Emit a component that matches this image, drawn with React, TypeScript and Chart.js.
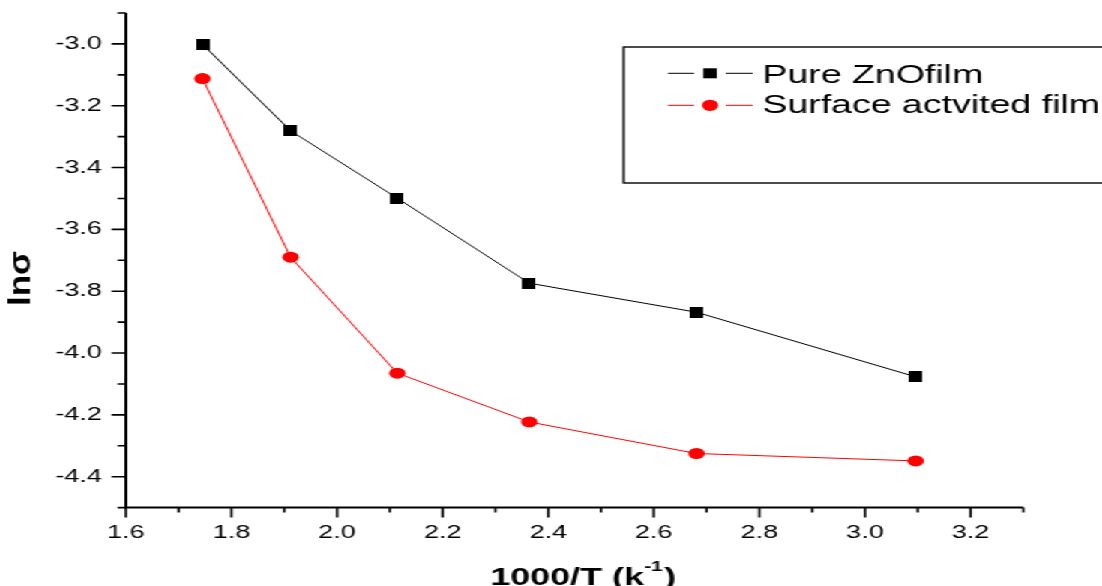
import React, { useEffect, useRef } from 'react';
import { Chart, registerables } from 'chart.js';

Chart.register(...registerables);

// ---- data ----
const inverseTemperature = [1.745, 1.912, 2.114, 2.364, 2.681, 3.096];
const pureZnOFilm = [-3.001, -3.281, -3.499, -3.774, -3.868, -4.077];
const surfaceActivatedFilm = [-3.112, -3.69, -4.065, -4.223, -4.325, -4.349];
const seriesLabels = ['Pure ZnOfilm', 'Surface actvited film'];
const xTitleMain = '1000/T (k';
const xTitleSup = '-1';
const xTitleEnd = ')';
const yTitle = 'lnσ';
const xRange = [1.6, 3.3];
const yRange = [-4.5, -2.9];

const FONT = "'Liberation Sans', Arial, Helvetica, sans-serif";
const CANVAS_W = 735;
const CANVAS_H = 586;
const STRETCH = 1102 / CANVAS_W;

function makeSquare(): HTMLCanvasElement {
  const c = document.createElement('canvas');
  c.width = 9;
  c.height = 11;
  const g = c.getContext('2d')!;
  g.fillStyle = '#000';
  g.fillRect(0, 0, 9, 11);
  return c;
}

function majorLabel(value: number | string): string {
  const k = Math.round(Number(value) * 10);
  return k % 2 === 0 ? (k / 10).toFixed(1) : '';
}

const decorPlugin = {
  id: 'decor',
  afterDraw(chart: any) {
    const ctx: CanvasRenderingContext2D = chart.ctx;
    const xs = chart.scales.x;
    const ys = chart.scales.y;
    const ca = chart.chartArea;
    ctx.save();
    ctx.strokeStyle = '#000';
    ctx.fillStyle = '#000';
    // axes lines
    ctx.lineWidth = 2;
    ctx.beginPath();
    ctx.moveTo(ca.left, ca.top);
    ctx.lineTo(ca.left, ca.bottom);
    ctx.moveTo(ca.left - 1, ca.bottom);
    ctx.lineTo(ca.right, ca.bottom);
    ctx.stroke();
    // ticks
    ctx.lineWidth = 1.6;
    ctx.beginPath();
    const nx = Math.round((xRange[1] - xRange[0]) * 10);
    for (let i = 0; i <= nx; i++) {
      const v = xRange[0] + i * 0.1;
      const px = xs.getPixelForValue(v);
      const major = Math.round(v * 10) % 2 === 0;
      ctx.moveTo(px, ca.bottom);
      ctx.lineTo(px, ca.bottom + (major ? 10 : 5));
    }
    const ny = Math.round((yRange[1] - yRange[0]) * 10);
    for (let i = 0; i <= ny; i++) {
      const v = yRange[0] + i * 0.1;
      const py = ys.getPixelForValue(v);
      const major = Math.round(v * 10) % 2 === 0;
      ctx.moveTo(ca.left, py);
      ctx.lineTo(ca.left - (major ? 9.5 : 5.5), py);
    }
    ctx.stroke();

    // x title
    ctx.textBaseline = 'alphabetic';
    ctx.textAlign = 'left';
    const bigFont = `bold 24px ${FONT}`;
    const smallFont = `bold 14px ${FONT}`;
    ctx.font = bigFont;
    const w1 = ctx.measureText(xTitleMain).width;
    const w3 = ctx.measureText(xTitleEnd).width;
    ctx.font = smallFont;
    const w2 = ctx.measureText(xTitleSup).width;
    const total = w1 + w2 + w3 + 1;
    let tx = 389 - total / 2;
    ctx.font = bigFont;
    ctx.fillText(xTitleMain, tx, 585);
    tx += w1;
    ctx.font = smallFont;
    ctx.fillText(xTitleSup, tx, 571);
    tx += w2 + 1;
    ctx.font = bigFont;
    ctx.fillText(xTitleEnd, tx, 585);

    // y title
    ctx.save();
    ctx.translate(20, 278.5);
    ctx.rotate(-Math.PI / 2);
    ctx.scale(1.75, 1);
    ctx.textAlign = 'center';
    ctx.font = `bold 20px ${FONT}`;
    ctx.fillText(yTitle, 0, 0);
    ctx.restore();

    // legend box
    ctx.lineWidth = 1.4;
    ctx.strokeRect(416, 47, 400, 136);
    const rows = [
      { y: 73.3, color: '#000', square: true, label: seriesLabels[0], base: 83 },
      { y: 105.3, color: '#ff0000', square: false, label: seriesLabels[1], base: 113 },
    ];
    rows.forEach((r) => {
      ctx.strokeStyle = r.color;
      ctx.lineWidth = 1;
      ctx.beginPath();
      ctx.moveTo(445.5, r.y);
      ctx.lineTo(463, r.y);
      ctx.moveTo(484, r.y);
      ctx.lineTo(502, r.y);
      ctx.stroke();
      ctx.fillStyle = r.color;
      if (r.square) {
        ctx.fillRect(473.6 - 4.5, r.y - 5, 9, 10);
      } else {
        ctx.beginPath();
        ctx.ellipse(473.6, r.y, 5.4, 5.6, 0, 0, Math.PI * 2);
        ctx.fill();
      }
      ctx.fillStyle = '#000';
      ctx.font = `25px ${FONT}`;
      ctx.textAlign = 'left';
      ctx.fillText(r.label, 508.5, r.base);
    });
    ctx.restore();
  },
};

export default function App() {
  const ref = useRef<HTMLCanvasElement | null>(null);

  useEffect(() => {
    if (!ref.current) return;
    const square = makeSquare();
    const chart = new Chart(ref.current, {
      type: 'line',
      data: {
        datasets: [
          {
            label: seriesLabels[0],
            data: inverseTemperature.map((x, i) => ({ x, y: pureZnOFilm[i] })),
            borderColor: '#000',
            backgroundColor: '#000',
            borderWidth: 1,
            pointStyle: square as any,
            pointRadius: 6,
            tension: 0,
          },
          {
            label: seriesLabels[1],
            data: inverseTemperature.map((x, i) => ({ x, y: surfaceActivatedFilm[i] })),
            borderColor: '#ff0000',
            backgroundColor: '#ff0000',
            borderWidth: 1,
            pointStyle: 'circle',
            pointRadius: 5.5,
            pointBorderWidth: 0,
            tension: 0,
          },
        ],
      },
      options: {
        responsive: false,
        animation: false,
        devicePixelRatio: 1,
        layout: { autoPadding: false, padding: { top: 13, right: 52.5, left: 0, bottom: 0 } },
        plugins: {
          legend: { display: false },
          tooltip: { enabled: false },
        },
        scales: {
          x: {
            type: 'linear',
            min: xRange[0],
            max: xRange[1],
            border: { display: false },
            grid: { display: false, drawTicks: false },
            afterFit: (s: any) => {
              s.height = 78.4;
              s.paddingLeft = 0;
              s.paddingRight = 0;
            },
            ticks: {
              stepSize: 0.1,
              autoSkip: false,
              maxRotation: 0,
              minRotation: 0,
              padding: 15,
              color: '#000',
              font: { family: FONT, size: 18 },
              callback: (v: any) => majorLabel(v),
            },
          },
          y: {
            type: 'linear',
            min: yRange[0],
            max: yRange[1],
            border: { display: false },
            grid: { display: false, drawTicks: false },
            afterFit: (s: any) => {
              s.width = 84;
              s.paddingTop = 0;
              s.paddingBottom = 0;
            },
            ticks: {
              stepSize: 0.1,
              autoSkip: false,
              padding: 16,
              color: '#000',
              font: { family: FONT, size: 18 },
              callback: (v: any) => majorLabel(v),
            },
          },
        },
      },
      plugins: [decorPlugin],
    });
    return () => chart.destroy();
  }, []);

  return (
    <div
      style={{
        position: 'fixed',
        left: 0,
        top: 0,
        width: CANVAS_W,
        height: CANVAS_H,
        transform: `scaleX(${STRETCH})`,
        transformOrigin: '0 0',
        background: '#fff',
      }}
    >
      <canvas ref={ref} width={CANVAS_W} height={CANVAS_H} />
    </div>
  );
}
